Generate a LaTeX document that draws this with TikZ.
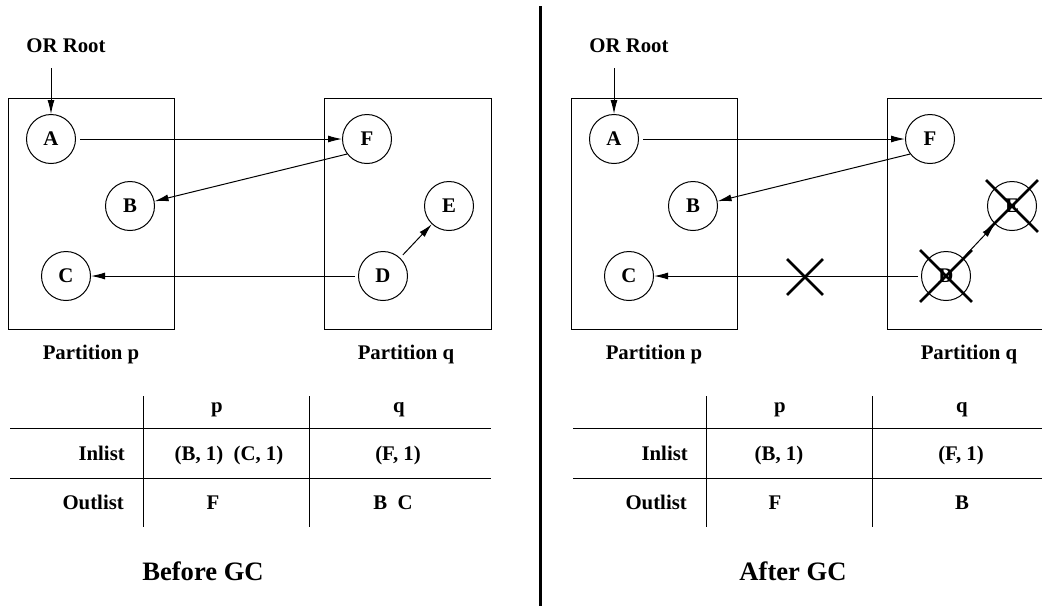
\documentclass[tikz,border=0pt]{standalone}
\usepackage{fontspec}
\setmainfont{Liberation Serif}
\usepackage{tikz}
\usetikzlibrary{arrows.meta,shapes.misc}

\tikzset{
  vtx/.style={circle,draw,line width=1pt,minimum size=49pt,inner sep=0pt,font=\fontsize{20.8}{22}\selectfont\bfseries},
  lbl/.style={inner sep=0pt,font=\fontsize{20.8}{22}\selectfont\bfseries},
  ttl/.style={inner sep=0pt,font=\fontsize{26.6}{28}\selectfont\bfseries},
  edge/.style={line width=1pt,-{Latex[length=14pt,width=7pt]}},
  kill/.style={draw,cross out,line width=2.8pt,minimum size=#1,inner sep=0pt},
  kill/.default=49pt,
  thin/.style={line width=1pt}
}

\begin{document}
\begin{tikzpicture}[x=1pt,y=-1pt]
\useasboundingbox (0,0) rectangle (1042,606);
\clip (0,0) rectangle (1042,606);

\draw[line width=3pt] (540,6) -- (540,606);

\draw[thin] (8,98) rectangle (174,329);
\draw[thin] (324,98) rectangle (491,329);
\node[vtx] (A) at (51,139) {A};
\node[vtx] (B) at (130,206) {B};
\node[vtx] (C) at (66,276) {C};
\node[vtx] (F) at (367,139) {F};
\node[vtx] (E) at (449,206) {E};
\node[vtx] (D) at (383,276) {D};
\node[lbl,anchor=base] (root) at (66,52.7) {OR Root};
\coordinate (rootin) at (51,68);
\draw[edge] (rootin) -- (A);
\draw[edge,shorten <=4pt] (A) -- (F);
\draw[edge] (F.217) -- (B.11);
\draw[edge,shorten <=4pt] (D) -- (E);
\draw[edge,shorten <=3pt] (D) -- (C);
\node[lbl,anchor=base] (pp) at (91,359) {Partition p};
\node[lbl,anchor=base] (pq) at (406,359) {Partition q};

\draw[thin] (10,428) -- (491,428);
\draw[thin] (10,478) -- (491,478);
\draw[thin] (143,396) -- (143,527);
\draw[thin] (309,396) -- (309,527);
\node[lbl,anchor=base] (hp) at (217,412.7) {p};
\node[lbl,anchor=base] (hq) at (399,412.7) {q};
\node[lbl,anchor=base east] (in) at (125,460) {Inlist};
\node[lbl,anchor=base east] (out) at (124,509) {Outlist};
\node[lbl,anchor=base] (inp) at (229,460) {(B, 1)\ \ (C, 1)};
\node[lbl,anchor=base] (inq) at (398,460) {(F, 1)};
\node[lbl,anchor=base] (outp) at (213,509) {F};
\node[lbl,anchor=base] (outq) at (393,509) {B\ \ C};
\node[ttl,anchor=base] (before) at (203,580.7) {Before GC};

\begin{scope}[xshift=563]
\draw[thin] (8,98) rectangle (174,329);
\draw[thin] (324,98) rectangle (491,329);
\node[vtx] (A2) at (51,139) {A};
\node[vtx] (B2) at (130,206) {B};
\node[vtx] (C2) at (66,276) {C};
\node[vtx] (F2) at (367,139) {F};
\node[vtx] (E2) at (449,206) {E};
\node[vtx] (D2) at (383,276) {D};
\node[lbl,anchor=base] (root2) at (66,52.7) {OR Root};
\coordinate (rootin2) at (51,68);
\draw[edge] (rootin2) -- (A2);
\draw[edge,shorten <=4pt] (A2) -- (F2);
\draw[edge] (F2.217) -- (B2.11);
\draw[edge,shorten <=4pt] (D2) -- (E2);
\draw[edge,shorten <=3pt] (D2) -- (C2);
\node[kill] (xD) at (D2) {};
\node[kill] (xE) at (E2) {};
\node[kill=33pt] (xcut) at (242,277) {};
\node[lbl,anchor=base] (pp2) at (91,359) {Partition p};
\node[lbl,anchor=base] (pq2) at (406,359) {Partition q};

\draw[thin] (10,428) -- (491,428);
\draw[thin] (10,478) -- (491,478);
\draw[thin] (143,396) -- (143,527);
\draw[thin] (309,396) -- (309,527);
\node[lbl,anchor=base] (hp2) at (217,412.7) {p};
\node[lbl,anchor=base] (hq2) at (399,412.7) {q};
\node[lbl,anchor=base east] (in2) at (125,460) {Inlist};
\node[lbl,anchor=base east] (out2) at (124,509) {Outlist};
\node[lbl,anchor=base] (inp2) at (216,460) {(B, 1)};
\node[lbl,anchor=base] (inq2) at (398,460) {(F, 1)};
\node[lbl,anchor=base] (outp2) at (212,509) {F};
\node[lbl,anchor=base] (outq2) at (399,509) {B};
\node[ttl,anchor=base] (after) at (230,580.7) {After GC};
\end{scope}
\end{tikzpicture}
\end{document}
